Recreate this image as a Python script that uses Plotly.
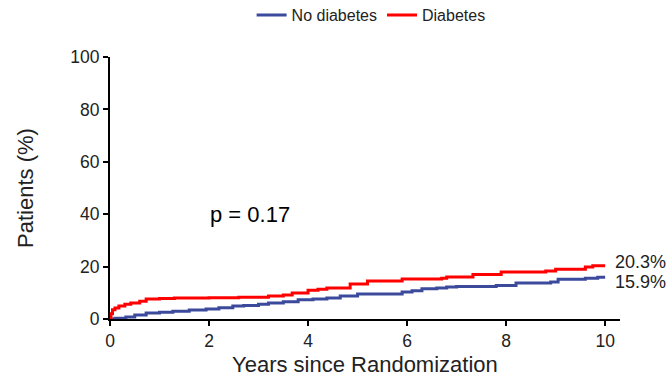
import plotly.graph_objects as go

# Cumulative incidence (%) by years since randomization
years_no_diabetes = [0, 0.1, 0.32, 0.5, 0.73, 1.0, 1.27, 1.6, 1.94, 2.2, 2.48, 2.7, 3.0, 3.2,
                     3.5, 3.8, 4.1, 4.38, 4.65, 5.0, 5.9, 6.1, 6.3, 6.6, 6.8, 7.0, 7.8, 8.2,
                     8.9, 9.05, 9.6, 9.85, 10.0]
pct_no_diabetes = [0, 0.3, 0.8, 1.5, 2.3, 2.6, 3.0, 3.4, 3.8, 4.3, 5.0, 5.2, 5.6, 6.1,
                   6.6, 7.3, 7.6, 8.0, 8.8, 9.5, 10.3, 10.8, 11.5, 11.8, 12.2, 12.4, 12.8, 13.7,
                   14.1, 15.2, 15.6, 15.9, 15.9]

years_diabetes = [0, 0.02, 0.05, 0.1, 0.18, 0.3, 0.42, 0.6, 0.73, 1.0, 1.3, 2.0, 2.6, 3.2,
                  3.5, 3.68, 4.0, 4.2, 4.38, 4.85, 5.2, 5.9, 6.7, 6.8, 7.33, 7.9, 8.8, 9.0,
                  9.6, 9.75, 10.0]
pct_diabetes = [0, 2.0, 3.5, 4.2, 5.0, 5.6, 6.1, 6.8, 7.6, 7.8, 8.0, 8.1, 8.3, 8.8,
                9.2, 9.9, 11.0, 11.4, 11.8, 13.4, 14.5, 15.3, 15.6, 16.0, 17.0, 17.9, 18.3, 19.0,
                19.8, 20.3, 20.3]

x_ticks = [0, 2, 4, 6, 8, 10]
y_ticks = [0, 20, 40, 60, 80, 100]
p_value_text = "p = 0.17"

BLUE = "#3c4a9c"
RED = "#ff0000"
FONT = "Liberation Sans, Arial, sans-serif"
INK = "#222222"

fig = go.Figure()
fig.add_trace(go.Scatter(x=years_no_diabetes, y=pct_no_diabetes, mode="lines",
                         line=dict(color=BLUE, width=3, shape="hv"), name="No diabetes"))
fig.add_trace(go.Scatter(x=years_diabetes, y=pct_diabetes, mode="lines",
                         line=dict(color=RED, width=3, shape="hv"), name="Diabetes"))

axis_common = dict(showline=True, linecolor="black", linewidth=2, ticks="outside",
                   ticklen=5, tickwidth=2, tickcolor="black", showgrid=False, zeroline=False,
                   tickfont=dict(family=FONT, size=17.5, color=INK))

fig.update_xaxes(range=[0, 10.3], tickvals=x_ticks, **axis_common)
fig.update_yaxes(range=[0, 100], tickvals=y_ticks, **axis_common,
                 title=dict(text="Patients (%)",
                            font=dict(family=FONT, size=22, color=INK), standoff=31))

# X-axis title placed just under the tick labels
fig.add_annotation(x=0.5, y=-0.173, xref="paper", yref="paper",
                   text="Years since Randomization", showarrow=False,
                   xanchor="center", yanchor="middle",
                   font=dict(family=FONT, size=22, color=INK))

# End-of-follow-up labels
fig.add_annotation(x=years_diabetes[-1], y=pct_diabetes[-1], text=f"{pct_diabetes[-1]:.1f}%",
                   showarrow=False, xanchor="left", yanchor="middle", xshift=8, yshift=4,
                   font=dict(family=FONT, size=18, color=INK))
fig.add_annotation(x=years_no_diabetes[-1], y=pct_no_diabetes[-1], text=f"{pct_no_diabetes[-1]:.1f}%",
                   showarrow=False, xanchor="left", yanchor="middle", xshift=8, yshift=-5,
                   font=dict(family=FONT, size=18, color=INK))
fig.add_annotation(x=2.83, y=39.7, text=p_value_text, showarrow=False,
                   xanchor="center", yanchor="middle",
                   font=dict(family=FONT, size=22, color="black"))

fig.update_layout(
    width=670, height=376,
    margin=dict(l=110, r=50, t=57, b=57, autoexpand=False),
    paper_bgcolor="white", plot_bgcolor="white",
    showlegend=True,
    legend=dict(orientation="h", x=0.512, xanchor="center", y=1.16, yanchor="middle",
                font=dict(family=FONT, size=16, color=INK), itemwidth=30,
                bgcolor="rgba(0,0,0,0)"),
)

fig.write_html("out.html")
